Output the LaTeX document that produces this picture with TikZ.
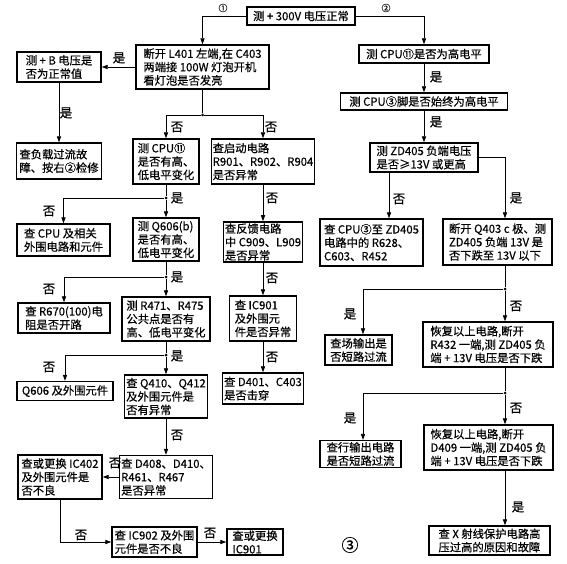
\documentclass[tikz,border=0pt]{standalone}
\usepackage{fontspec}
\setmainfont{Noto Sans CJK SC}[FakeBold=0.5]
\usetikzlibrary{arrows.meta}
\begin{document}
\begin{tikzpicture}[x=1pt,y=-1pt,
  box/.style={draw,line width=1.4pt,inner sep=1.5pt,align=left,font=\fontsize{11.3}{13.4}\selectfont},
  conn/.style={line width=0.8pt},
  arr/.style={conn,-{Triangle[length=6pt,width=4.2pt]}},
  lab/.style={font=\fontsize{12.5}{14}\selectfont,inner sep=0pt},
  dotn/.style={circle,fill,inner sep=0pt,minimum size=3pt}]
\useasboundingbox (0,0) rectangle (567,564);
% ---- boxes ----
\node[box,minimum width=108pt,minimum height=18pt] (top) at (301,16) {测 + 300V 电压正常};
\node[box,minimum width=133pt,minimum height=44pt] (L401) at (202.5,67) {断开 L401 左端,在 C403\\两端接 100W 灯泡开机\\看灯泡是否发亮};
\node[box,minimum width=84pt,minimum height=30pt] (pB) at (59,67) {测 + B 电压是\\否为正常值};
\node[box,minimum width=85pt,minimum height=36pt] (load) at (59,161) {查负载过流故\\障、按右②检修};
\node[box,minimum width=66pt,minimum height=45pt] (cpuL) at (166,161.5) {测 CPU⑪\\是否有高、\\低电平变化};
\node[box,minimum width=95pt,minimum height=45pt] (start) at (263,161.5) {查启动电路\\R901、R902、R904\\是否异常};
\node[box,minimum width=93pt,minimum height=32pt] (cpuRel) at (63.5,240) {查 CPU 及相关\\外围电路和元件};
\node[box,minimum width=66pt,minimum height=43pt] (q606) at (166,239.5) {测 Q606(b)\\是否有高、\\低电平变化};
\node[box,minimum width=75pt,minimum height=40pt] (feed) at (263,242) {查反馈电路\\中 C909、L909\\是否异常};
\node[box,minimum width=92pt,minimum height=30pt] (r670) at (64,318) {查 R670(100)电\\阻是否开路};
\node[box,minimum width=88pt,minimum height=44pt] (r471) at (166,319) {测 R471、R475\\公共点是否有\\高、低电平变化};
\node[box,minimum width=67pt,minimum height=45pt] (ic901a) at (263,318.5) {查 IC901\\及外围元\\件是否异常};
\node[box,minimum width=96pt,minimum height=19pt] (q606b) at (65,391) {Q606 及外围元件};
\node[box,minimum width=80pt,minimum height=43pt] (q410) at (166,396.5) {查 Q410、Q412\\及外围元件是\\否有异常};
\node[box,minimum width=79pt,minimum height=31pt] (d401) at (263,388.5) {查 D401、C403\\是否击穿};
\node[box,minimum width=81pt,minimum height=43pt] (d408) at (166,477) {查 D408、D410、\\R461、R467\\是否异常};
\node[box,minimum width=84pt,minimum height=44pt] (ic402) at (60,477) {查或更换 IC402\\及外围元件是\\否不良};
\node[box,minimum width=85pt,minimum height=30pt] (ic902) at (154.5,542) {查 IC902 及外围\\元件是否不良};
\node[box,minimum width=56pt,minimum height=25pt] (ic901b) at (255,542) {查或更换\\IC901};
% right column
\node[box,minimum width=130pt,minimum height=18pt] (hi11) at (424,54) {测 CPU⑪是否为高电平};
\node[box,minimum width=167pt,minimum height=17pt] (cpu3) at (424,101.5) {测 CPU③脚是否始终为高电平};
\node[box,minimum width=108pt,minimum height=29pt] (zd) at (424,157.5) {测 ZD405 负端电压\\是否≥13V 或更高};
\node[box,minimum width=103pt,minimum height=47pt] (cpu3zd) at (371.5,242.5) {查 CPU③至 ZD405\\电路中的 R628、\\C603、R452};
\node[box,minimum width=109pt,minimum height=46pt] (q403) at (497.5,242) {断开 Q403 c 极、测\\ZD405 负端 13V 是\\否下跌至 13V 以下};
\node[box,minimum width=67pt,minimum height=30pt] (field) at (358.5,350) {查场输出是\\否短路过流};
\node[box,minimum width=130pt,minimum height=45pt] (rest1) at (488,344.5) {恢复以上电路,断开\\R432 一端,测 ZD405 负\\端 + 13V 电压是否下跌};
\node[box,minimum width=81pt,minimum height=26pt] (line) at (360.5,454) {查行输出电路\\是否短路过流};
\node[box,minimum width=129pt,minimum height=45pt] (rest2) at (488.5,447.5) {恢复以上电路,断开\\D409 一端,测 ZD405 负\\端 + 13V 电压是否下跌};
\node[box,minimum width=121pt,minimum height=29pt] (xray) at (489.5,540.5) {查 X 射线保护电路高\\压过高的原因和故障};
% ---- helper coordinates and dots ----
\coordinate (xL) at (389,0);
\coordinate (xR) at (505,0);
\coordinate (xF) at (363,0);
\node[dotn] (d1) at (202.5,115) {};
\node[dotn] (d2) at (166,198) {};
\node[dotn] (d3) at (166,277) {};
\node[dotn] (d4) at (166,355) {};
\node[dotn] (d5) at (505,289) {};
\node[dotn] (d6) at (505,393) {};
% ---- connectors ----
\draw[arr] (top.west) -| (L401.north);
\draw[arr] (top.east) -| (hi11.north);
\draw[arr] (L401.west) -- (pB.east);
\draw[arr] (pB.south) -- (load.north);
\draw[conn] (L401.south) -- (d1);
\draw[arr] (d1) -| (cpuL.north);
\draw[arr] (d1) -| (start.north);
\draw[conn] (cpuL.south) -- (d2);
\draw[arr] (d2) -- (q606.north);
\draw[arr] (d2) -| (cpuRel.north);
\draw[conn] (q606.south) -- (d3);
\draw[arr] (d3) -- (r471.north);
\draw[arr] (d3) -| (r670.north);
\draw[conn] (r471.south) -- (d4);
\draw[arr] (d4) -- (q410.north);
\draw[arr] (d4) -| (q606b.north);
\draw[arr] (q410.south) -- (d408.north);
\draw[arr] (d408.west) -- (ic402.east);
\draw[arr] (ic402.south) |- (ic902.west);
\draw[arr] (ic902.east) -- (ic901b.west);
\draw[arr] (start.south) -- (feed.north);
\draw[arr] (feed.south) -- (ic901a.north);
\draw[arr] (ic901a.south) -- (d401.north);
\draw[arr] (hi11.south) -- (cpu3.north);
\draw[arr] (cpu3.south) -- (zd.north);
\draw[arr] (zd.south -| xL) -- (cpu3zd.north -| xL);
\draw[arr] (zd.east) -| (q403.north -| xR);
\draw[conn] (q403.south -| xR) -- (d5);
\draw[arr] (d5) -- (rest1.north -| xR);
\draw[arr] (d5) -| (field.north -| xF);
\draw[conn] (rest1.south -| xR) -- (d6);
\draw[arr] (d6) -- (rest2.north -| xR);
\draw[arr] (d6) -| (line.north -| xF);
\draw[arr] (rest2.south -| xR) -- (xray.north -| xR);
% ---- labels ----
\node[lab,font=\fontsize{9}{10}\selectfont] at (223,8) {①};
\node[lab,font=\fontsize{9}{10}\selectfont] at (386,8) {②};
\node[lab] at (119,58) {是};
\node[lab] at (66,113) {是};
\node[lab] at (177,127) {否};
\node[lab] at (271,127) {否};
\node[lab] at (177,198) {是};
\node[lab] at (49,211) {否};
\node[lab] at (177,277) {是};
\node[lab] at (49,289) {否};
\node[lab] at (177,356) {是};
\node[lab] at (49,367) {否};
\node[lab] at (177,435) {否};
\node[lab] at (115,463) {否};
\node[lab] at (81,535) {否};
\node[lab] at (210,533) {否};
\node[lab] at (272,198) {否};
\node[lab] at (272,278) {否};
\node[lab] at (272,357) {否};
\node[lab] at (436,77) {是};
\node[lab] at (436,122) {是};
\node[lab] at (399,199) {否};
\node[lab] at (516,198) {是};
\node[lab] at (350,314) {是};
\node[lab] at (516,306) {否};
\node[lab] at (350,418) {是};
\node[lab] at (516,408) {否};
\node[lab] at (518,507) {是};
\node[lab,font=\fontsize{17}{18}\selectfont] at (350,545) {③};
\end{tikzpicture}
\end{document}
